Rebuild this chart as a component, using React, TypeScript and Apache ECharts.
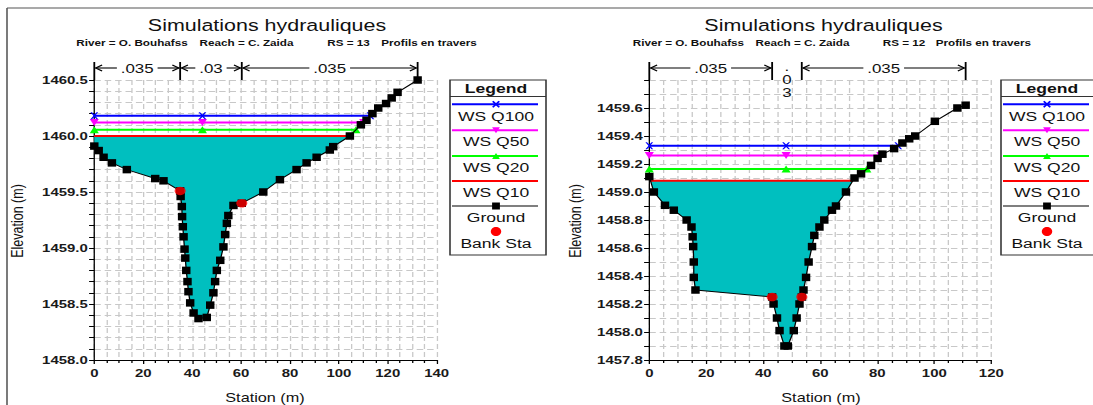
import React, { useEffect, useRef } from "react";
import * as echarts from "echarts";

// The reference picture is horizontally stretched; we draw on a narrower canvas and stretch it.
const S = 1.3;
const W = 1093 / S;
const H = 405;
const FONT = "'Liberation Sans', Arial, Helvetica, sans-serif";

// ---------- DATA ----------
const wsNames = ["WS Q100", "WS Q50", "WS Q20", "WS Q10"];
const wsColors = ["#0000FF", "#FF00FF", "#00FF00", "#FF0000"];

// RS = 13
const ground13: [number, number][] = [
  [0, 1459.91], [1.8, 1459.87], [3.8, 1459.81], [7.2, 1459.76], [13.3, 1459.7], [24.9, 1459.62],
  [28.3, 1459.6], [35.1, 1459.51], [35.3, 1459.46], [35.8, 1459.37], [35.9, 1459.28], [36.2, 1459.19],
  [36.5, 1459.1], [36.9, 1458.99], [37.2, 1458.91], [37.6, 1458.8], [38.1, 1458.7], [38.5, 1458.61],
  [39.2, 1458.51], [40.6, 1458.42], [42.6, 1458.37], [46.0, 1458.38], [47.4, 1458.49], [48.7, 1458.6],
  [49.4, 1458.7], [50.1, 1458.8], [51.5, 1458.89], [52.8, 1459.01], [53.5, 1459.12], [54.2, 1459.22],
  [54.8, 1459.29], [56.9, 1459.38], [60.3, 1459.4], [69.1, 1459.5], [75.9, 1459.61], [82.7, 1459.7],
  [86.8, 1459.76], [90.9, 1459.81], [96.3, 1459.875], [97.7, 1459.905], [104.5, 1460.0], [109.0, 1460.1],
  [111.3, 1460.14], [113.7, 1460.2], [116.1, 1460.25], [119.3, 1460.29], [121.6, 1460.34], [124.0, 1460.39],
  [132.2, 1460.5],
];
const bank13: [number, number][] = [[35.1, 1459.51], [60.3, 1459.4]];
const ws13 = [1460.18, 1460.12, 1460.055, 1460.0];
const mid13 = 44.2;
const n13 = [".035", ".03", ".035"];

// RS = 12
const ground12: [number, number][] = [
  [0, 1459.11], [1.6, 1459.0], [5.5, 1458.905], [8.6, 1458.87], [13.1, 1458.8], [14.8, 1458.75],
  [15.2, 1458.68], [15.4, 1458.61], [15.6, 1458.5], [15.6, 1458.39], [16.2, 1458.3], [43.1, 1458.25],
  [43.6, 1458.2], [44.8, 1458.1], [45.7, 1458.01], [47.4, 1457.9], [48.6, 1457.9], [50.7, 1458.01],
  [51.7, 1458.1], [52.7, 1458.2], [53.5, 1458.25], [54.1, 1458.3], [55.0, 1458.39], [55.9, 1458.5],
  [57.1, 1458.61], [57.9, 1458.69], [59.7, 1458.75], [61.4, 1458.8], [64.1, 1458.87], [65.5, 1458.9],
  [69.0, 1459.0], [72.0, 1459.1], [74.3, 1459.13], [77.8, 1459.19], [80.1, 1459.24], [81.8, 1459.27],
  [85.9, 1459.31], [88.8, 1459.35], [91.2, 1459.38], [93.3, 1459.4], [100.2, 1459.505], [108.1, 1459.6],
  [111.0, 1459.62],
];
const bank12: [number, number][] = [[43.1, 1458.25], [53.5, 1458.25]];
const ws12 = [1459.33, 1459.26, 1459.165, 1459.08];
const mid12 = 48;
const n12 = [".035", ".03", ".035"];

const xTicks13 = { min: 0, max: 140, interval: 20 };
const yTicks13 = { min: 1458.0, max: 1460.5, interval: 0.5, minor: 5 };
const xTicks12 = { min: 0, max: 120, interval: 20 };
const yTicks12 = { min: 1457.8, max: 1459.8, interval: 0.2, minor: 2 };

// ---------- helpers ----------
function interp(p1: [number, number], p2: [number, number], lvl: number): number {
  return p1[0] + ((lvl - p1[1]) * (p2[0] - p1[0])) / (p2[1] - p1[1]);
}
function wet(ground: [number, number][], lvl: number) {
  const n = ground.length;
  let m = 0;
  ground.forEach((p, i) => { if (p[1] < ground[m][1]) m = i; });
  let iL = m;
  while (iL > 0 && ground[iL - 1][1] < lvl) iL--;
  let iR = m;
  while (iR < n - 1 && ground[iR + 1][1] < lvl) iR++;
  const xl = iL === 0 ? ground[0][0] : interp(ground[iL - 1], ground[iL], lvl);
  const xr = iR === n - 1 ? ground[n - 1][0] : interp(ground[iR], ground[iR + 1], lvl);
  const poly: [number, number][] = [[xl, lvl], ...ground.slice(iL, iR + 1), [xr, lvl]];
  return { xl, xr, poly };
}

const XPATH = "path://M0,0L2,0L5,3.2L8,0L10,0L6,5L10,10L8,10L5,6.8L2,10L0,10L4,5Z";
const wsSymbols = [XPATH, "triangle", "triangle", "none"];
const wsRot = [0, 180, 0, 0];

const gridStyle = { color: "#c8c8c8", width: 1, type: [5, 3] as number[] };

function axesFor(gi: number, xt: any, yt: any, hideMax: boolean) {
  const xAxis = {
    gridIndex: gi, type: "value", min: xt.min, max: xt.max, interval: xt.interval,
    axisLine: { show: true, onZero: false, lineStyle: { color: "#000", width: 1 } },
    axisTick: { show: true, length: 4, lineStyle: { color: "#000" } },
    minorTick: { show: true, splitNumber: 4, length: 3, lineStyle: { color: "#000" } },
    splitLine: { show: true, lineStyle: gridStyle },
    minorSplitLine: { show: true, lineStyle: gridStyle },
    axisLabel: { fontSize: 11.5, fontWeight: "bold", color: "#1a1a1a", margin: 7, fontFamily: FONT },
  };
  const yAxis = {
    gridIndex: gi, type: "value", min: yt.min, max: yt.max, interval: yt.interval,
    axisLine: { show: true, onZero: false, lineStyle: { color: "#000", width: 1 } },
    axisTick: { show: true, length: 4, lineStyle: { color: "#000" } },
    minorTick: { show: true, splitNumber: yt.minor, length: 4, lineStyle: { color: "#000" } },
    splitLine: { show: true, lineStyle: gridStyle },
    minorSplitLine: { show: true, lineStyle: gridStyle },
    axisLabel: {
      fontSize: 11.5, fontWeight: "bold", color: "#1a1a1a", margin: 5, fontFamily: FONT,
      showMaxLabel: !hideMax,
      formatter: (v: number) => v.toFixed(1),
    },
  };
  return { xAxis, yAxis };
}

function seriesFor(gi: number, ground: [number, number][], bank: [number, number][], ws: number[], mid: number) {
  const out: any[] = [];
  const fill = wet(ground, ws[3]);
  out.push({
    type: "custom", xAxisIndex: gi, yAxisIndex: gi, silent: true, z: 1,
    data: [[fill.xl, ws[3]]],
    renderItem: (_p: any, api: any) => ({
      type: "polygon",
      shape: { points: fill.poly.map((p) => api.coord(p)) },
      style: { fill: "#00BFBF" },
    }),
  });
  ws.forEach((lvl, i) => {
    const w = wet(ground, lvl);
    out.push({
      type: "line", name: wsNames[i], xAxisIndex: gi, yAxisIndex: gi, z: 3 + (3 - i) * 0.1,
      data: [[w.xl, lvl], [mid, lvl], [w.xr, lvl]],
      symbol: wsSymbols[i], symbolRotate: wsRot[i], symbolSize: i === 0 ? [6, 7] : 7,
      showSymbol: i !== 3,
      lineStyle: { color: wsColors[i], width: 2 },
      itemStyle: { color: wsColors[i] },
    });
  });
  out.push({
    type: "line", name: "Ground", xAxisIndex: gi, yAxisIndex: gi, z: 5,
    data: ground, symbol: "rect", symbolSize: [6.5, 7.5],
    lineStyle: { color: "#000", width: 1 }, itemStyle: { color: "#000" },
  });
  out.push({
    type: "scatter", name: "Bank Sta", xAxisIndex: gi, yAxisIndex: gi, z: 6,
    data: bank, symbol: "circle", symbolSize: [8.5, 8.5], itemStyle: { color: "#FF0000" },
  });
  return out;
}

function txt(t: string, x: number, y: number, size: number, weight = "normal", align = "center", extra: any = {}) {
  return {
    type: "text", x, y, z: 101, silent: true, ...extra,
    style: {
      text: t, fontSize: size, fontWeight: weight, fontFamily: FONT, fill: "#111",
      align, verticalAlign: "middle", textAlign: align, textVerticalAlign: "middle",
    },
  };
}
function ln(x1: number, y1: number, x2: number, y2: number, stroke = "#000", lw = 1.2) {
  return { type: "line", z: 100, silent: true, shape: { x1, y1, x2, y2 }, style: { stroke, lineWidth: lw } };
}

function legendEls(leftRef: number) {
  const els: any[] = [];
  const L = leftRef / S;
  const Wd = 96 / S;
  const cx = (leftRef + 46) / S;
  els.push({ type: "rect", z: 99, silent: true, shape: { x: L, y: 80, width: Wd, height: 175 }, style: { fill: "#fff", stroke: "#333", lineWidth: 1.2 } });
  els.push(ln(L, 96.5, L + Wd, 96.5, "#333", 1.2));
  els.push(txt("Legend", cx, 88, 13.5, "bold"));
  const lineYs = [104.3, 130.3, 156, 181];
  const labYs = [116, 141.5, 167, 192.5];
  wsNames.forEach((n, i) => {
    const y = lineYs[i];
    els.push(ln(L + 2 / S, y, L + 88 / S, y, wsColors[i], 2));
    if (i === 0) {
      els.push(ln(cx - 2.5, y - 3, cx + 2.5, y + 3, wsColors[i], 1.4));
      els.push(ln(cx - 2.5, y + 3, cx + 2.5, y - 3, wsColors[i], 1.4));
    } else if (i === 1) {
      els.push({ type: "polygon", z: 101, silent: true, shape: { points: [[cx - 3, y - 3], [cx + 3, y - 3], [cx, y + 3]] }, style: { fill: wsColors[i] } });
    } else if (i === 2) {
      els.push({ type: "polygon", z: 101, silent: true, shape: { points: [[cx - 3, y + 3], [cx + 3, y + 3], [cx, y - 3]] }, style: { fill: wsColors[i] } });
    }
    els.push(txt(n, cx, labYs[i], 13.5));
  });
  els.push(ln(L + 2 / S, 206, L + 88 / S, 206, "#000", 1));
  els.push({ type: "rect", z: 101, silent: true, shape: { x: cx - 3, y: 202.5, width: 6, height: 7 }, style: { fill: "#000" } });
  els.push(txt("Ground", cx, 217, 13.5));
  els.push({ type: "ellipse", z: 101, silent: true, shape: { cx, cy: 231.5, rx: 4, ry: 4.5 }, style: { fill: "#FF0000" } });
  els.push(txt("Bank Sta", cx, 243, 13.5));
  return els;
}

function nBars(chart: any, gi: number, stations: number[], labels: string[], yRef: number) {
  const els: any[] = [];
  const px = stations.map((s) => (chart.convertToPixel({ gridIndex: gi }, [s, yRef]) as number[])[0]);
  px.forEach((x) => els.push(ln(x, 62, x, 80, "#000", 1.4)));
  const fs = 13;
  const y = 68;
  labels.forEach((lab, i) => {
    const a = px[i];
    const b = px[i + 1];
    const cx = (a + b) / 2;
    const tw = [...lab].reduce((s, c) => s + (c === "." ? 0.278 : 0.556), 0) * fs;
    if (b - a > tw + 18) {
      els.push(txt(lab, cx, y, fs));
      els.push(ln(a + 1, y, cx - tw / 2 - 3, y, "#000", 1.1));
      els.push(ln(cx + tw / 2 + 3, y, b - 1, y, "#000", 1.1));
      els.push({ type: "polyline", z: 100, silent: true, shape: { points: [[a + 6, y - 3], [a + 1, y], [a + 6, y + 3]] }, style: { stroke: "#000", lineWidth: 1.1, fill: "none" } });
      els.push({ type: "polyline", z: 100, silent: true, shape: { points: [[b - 6, y - 3], [b - 1, y], [b - 6, y + 3]] }, style: { stroke: "#000", lineWidth: 1.1, fill: "none" } });
    } else {
      const ys = [66, 79, 92];
      [...lab].forEach((c, k) => els.push(txt(c, cx, ys[k], fs)));
    }
  });
  return els;
}

function subtitle(parts: string[], centers: number[]) {
  return parts.map((p, i) => txt(p, centers[i] / S, 43, 9, "bold"));
}

export default function App() {
  const ref = useRef<HTMLDivElement>(null);
  useEffect(() => {
    const chart = echarts.init(ref.current as HTMLDivElement, null, { renderer: "svg" });
    const a0 = axesFor(0, xTicks13, yTicks13, false);
    const a1 = axesFor(1, xTicks12, yTicks12, true);
    chart.setOption({
      animation: false,
      backgroundColor: "#fff",
      textStyle: { fontFamily: FONT },
      grid: [
        { left: 94.3 / S, top: 80, width: 342.4 / S, height: 280, containLabel: false },
        { left: 649.3 / S, top: 80, width: 342 / S, height: 280, containLabel: false },
      ],
      xAxis: [a0.xAxis, a1.xAxis],
      yAxis: [a0.yAxis, a1.yAxis],
      series: [
        ...seriesFor(0, ground13, bank13, ws13, mid13),
        ...seriesFor(1, ground12, bank12, ws12, mid12),
      ],
    });

    const els: any[] = [];
    // frame
    els.push(ln(7 / S, 8, W, 8, "#555", 1.2));
    els.push(ln(7 / S, 8, 7 / S, H, "#555", 1.2));
    // titles
    els.push(txt("Simulations hydrauliques", 267 / S, 25, 16.5));
    els.push(txt("Simulations hydrauliques", 823.5 / S, 25, 16.5));
    els.push(...subtitle(["River = O. Bouhafss", "Reach = C. Zaida", "RS = 13", "Profils en travers"], [132, 246.5, 348.5, 429]));
    els.push(...subtitle(["River = O. Bouhafss", "Reach = C. Zaida", "RS = 12", "Profils en travers"], [688.4, 802.5, 904, 983.4]));
    // axis names
    els.push(txt("Elevation (m)", 17 / S, 221, 12.5, "normal", "center", { rotation: Math.PI / 2 }));
    els.push(txt("Elevation (m)", 575 / S, 221, 12.5, "normal", "center", { rotation: Math.PI / 2 }));
    els.push(txt("Station (m)", 265 / S, 398, 12.5));
    els.push(txt("Station (m)", 821 / S, 398, 12.5));
    // Manning's n bars
    els.push(...nBars(chart, 0, [0, bank13[0][0], bank13[1][0], ground13[ground13.length - 1][0]], n13, yTicks13.min));
    els.push(...nBars(chart, 1, [0, bank12[0][0], bank12[1][0], ground12[ground12.length - 1][0]], n12, yTicks12.min));
    // legends
    els.push(...legendEls(450));
    els.push(...legendEls(1001));

    chart.setOption({ graphic: { elements: els } });
    return () => chart.dispose();
  }, []);
  return (
    <div
      ref={ref}
      style={{
        position: "absolute", left: 0, top: 0, width: W, height: H,
        transform: `scaleX(${S})`, transformOrigin: "0 0", background: "#fff",
      }}
    />
  );
}
